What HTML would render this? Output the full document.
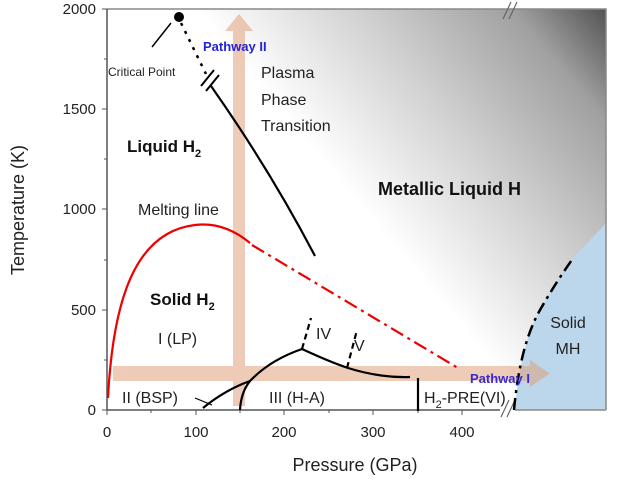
<!DOCTYPE html>
<html><head><meta charset="utf-8"><style>
html,body{margin:0;padding:0;background:#fff;}
svg{display:block;font-family:"Liberation Sans",Arial,sans-serif;}
</style></head><body>
<svg width="620" height="480" viewBox="0 0 620 480" xmlns="http://www.w3.org/2000/svg">
<defs>
<linearGradient id="g" gradientUnits="userSpaceOnUse" x1="300" y1="260" x2="610" y2="0">
<stop offset="0" stop-color="#ffffff"/>
<stop offset="0.2" stop-color="#ffffff"/>
<stop offset="0.5" stop-color="#d2d2d2"/>
<stop offset="0.8" stop-color="#a0a0a0"/>
<stop offset="1" stop-color="#4a4a4a"/>
</linearGradient>
</defs>
<polygon points="107,9 606,9 606,223 520,385 470,385 107,140" fill="url(#g)"/>
<path d="M515,410 Q520,345 540,310 Q556,282 573,258 L606,223 L606,410 Z" fill="#bcd6ec"/>
<polyline points="107,9 606,9 606,410" fill="none" stroke="#888" stroke-width="1.5"/>
<line x1="107" y1="9" x2="107" y2="410" stroke="#555" stroke-width="1.5"/>
<line x1="107" y1="410" x2="500" y2="410" stroke="#555" stroke-width="1.5"/>
<line x1="515" y1="410" x2="606" y2="410" stroke="#888" stroke-width="1.5"/>
<g stroke="#555" stroke-width="1">
<line x1="102" y1="9" x2="107" y2="9"/><line x1="102" y1="109" x2="107" y2="109"/>
<line x1="102" y1="209" x2="107" y2="209"/><line x1="102" y1="310" x2="107" y2="310"/>
<line x1="102" y1="410" x2="107" y2="410"/>
<line x1="104" y1="59" x2="107" y2="59"/><line x1="104" y1="159" x2="107" y2="159"/>
<line x1="104" y1="260" x2="107" y2="260"/><line x1="104" y1="360" x2="107" y2="360"/>
<line x1="107" y1="410" x2="107" y2="415"/><line x1="196" y1="410" x2="196" y2="415"/>
<line x1="284" y1="410" x2="284" y2="415"/><line x1="373" y1="410" x2="373" y2="415"/>
<line x1="462" y1="410" x2="462" y2="415"/>
<line x1="151" y1="410" x2="151" y2="413"/><line x1="240" y1="410" x2="240" y2="413"/>
<line x1="329" y1="410" x2="329" y2="413"/><line x1="418" y1="410" x2="418" y2="413"/>
</g>
<g font-size="15" fill="#222" text-anchor="end">
<text x="96" y="14">2000</text><text x="96" y="114">1500</text>
<text x="96" y="214">1000</text><text x="96" y="315">500</text><text x="96" y="415">0</text>
</g>
<g font-size="15" fill="#222" text-anchor="middle">
<text x="107" y="437">0</text><text x="196" y="437">100</text><text x="284" y="437">200</text>
<text x="373" y="437">300</text><text x="462" y="437">400</text>
</g>
<text x="355" y="471" font-size="18" fill="#222" text-anchor="middle">Pressure (GPa)</text>
<text transform="translate(24,210) rotate(-90)" font-size="18" fill="#222" text-anchor="middle">Temperature (K)</text>
<g stroke="#666" stroke-width="1.2">
<line x1="503" y1="19" x2="511" y2="2"/><line x1="509" y1="19" x2="517" y2="2"/>
<line x1="501" y1="417" x2="509" y2="400"/><line x1="507" y1="417" x2="515" y2="400"/>
</g>
<g fill="#e0a27c" opacity="0.55">
<rect x="233" y="30" width="12" height="376"/>
<polygon points="225,31 239,14 253,31"/>
<rect x="113" y="366" width="418" height="15"/>
<polygon points="530,360 550,373.5 530,387"/>
</g>
<circle cx="179" cy="17" r="5" fill="#000"/>
<line x1="152" y1="47" x2="171" y2="23" stroke="#000" stroke-width="1.5"/>
<line x1="181" y1="23" x2="206" y2="74" stroke="#000" stroke-width="2.5" stroke-dasharray="3,6"/>
<g stroke="#000" stroke-width="2"><line x1="201" y1="86" x2="214" y2="70"/><line x1="206" y1="91" x2="219" y2="75"/></g>
<path d="M211,86 Q270,170 315,256" fill="none" stroke="#000" stroke-width="2.2"/>
<path d="M108,398 C113,300 135,232 195,225 C220,222 238,233 250,243" fill="none" stroke="#e00" stroke-width="2.2"/>
<line x1="252" y1="245" x2="458" y2="368" stroke="#e00" stroke-width="2.2" stroke-dasharray="14,5,3,5"/>
<path d="M514,410 Q520,345 540,310 Q556,282 574,257" fill="none" stroke="#000" stroke-width="2.5" stroke-dasharray="12,5,3,5"/>
<g fill="none" stroke="#000" stroke-width="2.2">
<path d="M203,408 Q225,390 250,381 Q270,360 302,349"/>
<path d="M302,349 Q330,362 348,368 Q380,378 410,377"/>
<path d="M250,381 Q241,392 240,410"/>
<line x1="418" y1="378" x2="418" y2="411"/>
<line x1="195" y1="398" x2="212" y2="405" stroke-width="1.2"/>
</g>
<g stroke="#000" stroke-width="2.2" stroke-dasharray="6,4">
<line x1="302" y1="349" x2="311" y2="318"/>
<line x1="347" y1="368" x2="357" y2="330"/>
</g>
<text x="108" y="76" font-size="12" fill="#222">Critical Point</text>
<text x="203" y="51" font-size="13" font-weight="bold" fill="#2222dd">Pathway II</text>
<text x="470" y="383" font-size="13" font-weight="bold" fill="#3a2ad0">Pathway I</text>
<g font-size="16" fill="#222">
<text x="261" y="78">Plasma</text><text x="261" y="105">Phase</text><text x="261" y="131">Transition</text>
<text x="138" y="215">Melting line</text>
<text x="158" y="344">I (LP)</text>
<text x="316" y="339">IV</text><text x="354" y="351">V</text>
<text x="122" y="403">II (BSP)</text>
<text x="269" y="403">III (H-A)</text>
<text x="424" y="403">H<tspan font-size="11" dy="5">2</tspan><tspan dy="-5">-PRE(VI)</tspan></text>
<text x="568" y="328" text-anchor="middle">Solid</text><text x="568" y="354" text-anchor="middle">MH</text>
</g>
<g font-size="17" font-weight="bold" fill="#111">
<text x="127" y="152">Liquid H<tspan font-size="11" dy="5">2</tspan></text>
<text x="150" y="305">Solid H<tspan font-size="11" dy="5">2</tspan></text>
<text x="378" y="195" font-size="18">Metallic Liquid H</text>
</g>
</svg>
</body></html>
